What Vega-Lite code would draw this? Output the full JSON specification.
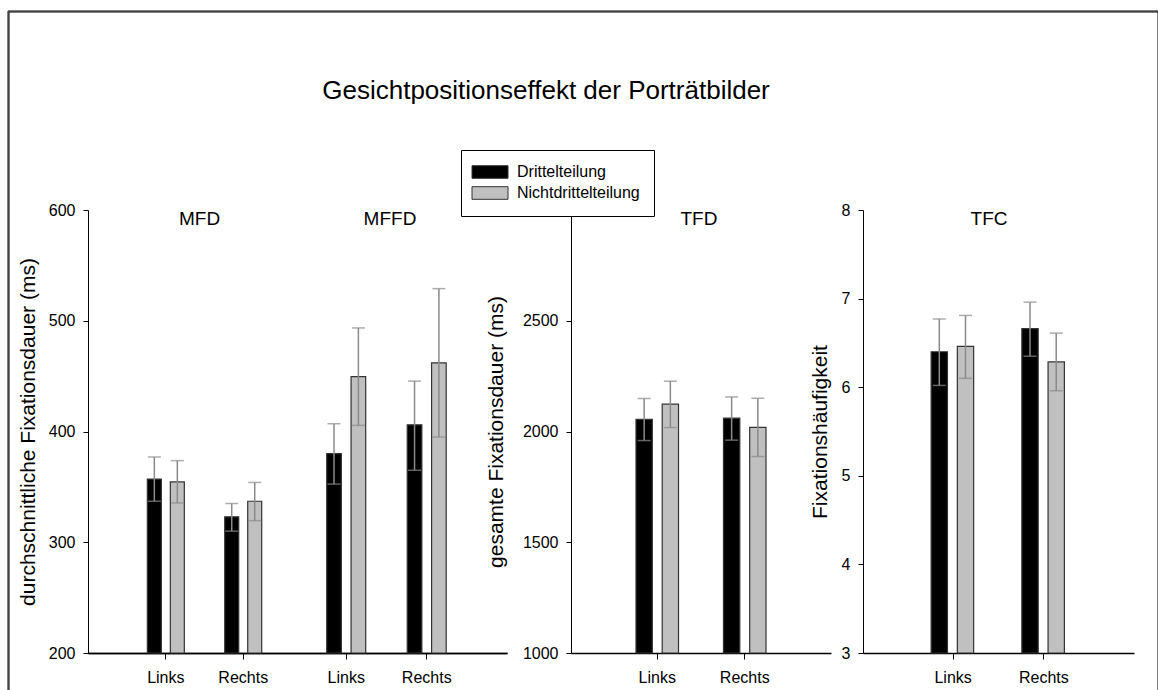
{
"$schema": "https://vega.github.io/schema/vega-lite/v6.json",
"padding": {"left": 7, "top": 10, "right": 0, "bottom": 0},
"config": {
  "view": {"stroke": null},
  "font": "Liberation Sans",
  "axis": {"labelFont": "Liberation Sans", "labelFontSize": 16, "labelColor": "#000", "titleFont": "Liberation Sans", "titleFontSize": 21, "titleFontWeight": "normal", "titleColor": "#000", "domainColor": "#000", "tickColor": "#000", "grid": false},
  "axisX": {"tickSize": 6, "labelPadding": 10, "domainWidth": 1.5, "labelAngle": 0},
  "axisY": {"tickSize": 5, "labelPadding": 8, "domainWidth": 1},
  "legend": {"strokeWidth": 1, "labelFont": "Liberation Sans", "labelFontSize": 16, "labelColor": "#000", "symbolType": "M-3,-1.05H3V1.05H-3Z", "symbolSize": 144, "symbolStrokeColor": "#333", "symbolStrokeWidth": 1, "symbolOpacity": 1}
},
"datasets": {
  "bars": [
    {"measure": "MFD", "pos": "Links", "group": "Drittelteilung", "mean": 357, "lo": 337, "hi": 377},
    {"measure": "MFD", "pos": "Links", "group": "Nichtdrittelteilung", "mean": 354.5, "lo": 335.5, "hi": 373.7},
    {"measure": "MFD", "pos": "Rechts", "group": "Drittelteilung", "mean": 323, "lo": 310, "hi": 335},
    {"measure": "MFD", "pos": "Rechts", "group": "Nichtdrittelteilung", "mean": 337, "lo": 319.5, "hi": 354},
    {"measure": "MFFD", "pos": "Links", "group": "Drittelteilung", "mean": 380, "lo": 352.5, "hi": 407},
    {"measure": "MFFD", "pos": "Links", "group": "Nichtdrittelteilung", "mean": 449.5, "lo": 405.5, "hi": 493.5},
    {"measure": "MFFD", "pos": "Rechts", "group": "Drittelteilung", "mean": 406, "lo": 365, "hi": 445.5},
    {"measure": "MFFD", "pos": "Rechts", "group": "Nichtdrittelteilung", "mean": 462, "lo": 395, "hi": 529},
    {"measure": "TFD", "pos": "Links", "group": "Drittelteilung", "mean": 2055, "lo": 1959, "hi": 2149},
    {"measure": "TFD", "pos": "Links", "group": "Nichtdrittelteilung", "mean": 2124, "lo": 2018, "hi": 2227},
    {"measure": "TFD", "pos": "Rechts", "group": "Drittelteilung", "mean": 2060, "lo": 1961, "hi": 2156},
    {"measure": "TFD", "pos": "Rechts", "group": "Nichtdrittelteilung", "mean": 2019, "lo": 1887, "hi": 2150},
    {"measure": "TFC", "pos": "Links", "group": "Drittelteilung", "mean": 6.4, "lo": 6.02, "hi": 6.77},
    {"measure": "TFC", "pos": "Links", "group": "Nichtdrittelteilung", "mean": 6.46, "lo": 6.1, "hi": 6.81},
    {"measure": "TFC", "pos": "Rechts", "group": "Drittelteilung", "mean": 6.66, "lo": 6.35, "hi": 6.96},
    {"measure": "TFC", "pos": "Rechts", "group": "Nichtdrittelteilung", "mean": 6.285, "lo": 5.96, "hi": 6.61}
  ]
},
"title": {"text": "Gesichtpositionseffekt der Porträtbilder", "font": "Liberation Sans", "fontSize": 26, "fontWeight": "normal", "color": "#000", "anchor": "middle", "offset": -94, "dx": -54},
"spacing": -22,
"hconcat": [
  {
    "width": 419, "height": 443,
    "data": {"name": "bars"},
    "layer": [
      {
        "transform": [{"filter": "datum.measure === 'MFD'"}],
        "encoding": {
          "x": {"field": "pos", "type": "nominal", "title": null, "scale": {"type": "band", "domain": ["Links", "Rechts", "·1", "·2"], "paddingInner": 0.522, "paddingOuter": 0.968, "align": 0.396}, "axis": {"orient": "bottom", "values": ["Links", "Rechts"]}},
          "xOffset": {"field": "group", "type": "nominal", "sort": ["Drittelteilung", "Nichtdrittelteilung"], "scale": {"paddingInner": 0.391, "paddingOuter": 0}}
        },
        "layer": [
          {"mark": {"type": "bar", "stroke": "#333", "strokeWidth": 1.2}, "encoding": {
            "y": {"field": "mean", "type": "quantitative", "title": "durchschnittliche Fixationsdauer (ms)", "scale": {"domain": [200, 600], "nice": false, "zero": false}, "axis": {"values": [200, 300, 400, 500, 600], "titlePadding": 10}},
            "y2": {"datum": 200},
            "color": {"field": "group", "type": "nominal", "scale": {"domain": ["Drittelteilung", "Nichtdrittelteilung"], "range": ["#000000", "#c0c0c0"]}, "legend": {"orient": "none", "legendX": 373, "legendY": -60, "title": null, "strokeColor": "#000", "fillColor": "#fff", "padding": 14, "symbolOffset": 7, "labelOffset": 19, "rowPadding": 3}}}},
          {"mark": {"type": "rule", "color": "#8a8a8a", "strokeWidth": 1.5}, "encoding": {"y": {"field": "lo", "type": "quantitative", "title": "durchschnittliche Fixationsdauer (ms)"}, "y2": {"field": "hi"}}},
          {"mark": {"type": "tick", "color": "#8a8a8a", "thickness": 1.5, "size": 13}, "encoding": {"y": {"field": "lo", "type": "quantitative", "title": "durchschnittliche Fixationsdauer (ms)"}}},
          {"mark": {"type": "tick", "color": "#8a8a8a", "thickness": 1.5, "size": 13}, "encoding": {"y": {"field": "hi", "type": "quantitative", "title": "durchschnittliche Fixationsdauer (ms)"}}}
        ]
      },
      {
        "transform": [{"filter": "datum.measure === 'MFFD'"}],
        "encoding": {
          "x": {"field": "pos", "type": "nominal", "title": null, "scale": {"type": "band", "domain": ["·3", "·4", "Links", "Rechts"], "paddingInner": 0.516, "paddingOuter": 0.86, "align": 0.561}, "axis": {"orient": "bottom", "values": ["Links", "Rechts"]}},
          "xOffset": {"field": "group", "type": "nominal", "sort": ["Drittelteilung", "Nichtdrittelteilung"], "scale": {"paddingInner": 0.4, "paddingOuter": 0}}
        },
        "layer": [
          {"mark": {"type": "bar", "stroke": "#333", "strokeWidth": 1.2}, "encoding": {
            "y": {"field": "mean", "type": "quantitative", "title": "durchschnittliche Fixationsdauer (ms)"},
            "y2": {"datum": 200},
            "color": {"field": "group", "type": "nominal", "scale": {"domain": ["Drittelteilung", "Nichtdrittelteilung"], "range": ["#000000", "#c0c0c0"]}}}},
          {"mark": {"type": "rule", "color": "#8a8a8a", "strokeWidth": 1.5}, "encoding": {"y": {"field": "lo", "type": "quantitative", "title": "durchschnittliche Fixationsdauer (ms)"}, "y2": {"field": "hi"}}},
          {"mark": {"type": "tick", "color": "#8a8a8a", "thickness": 1.5, "size": 13}, "encoding": {"y": {"field": "lo", "type": "quantitative", "title": "durchschnittliche Fixationsdauer (ms)"}}},
          {"mark": {"type": "tick", "color": "#8a8a8a", "thickness": 1.5, "size": 13}, "encoding": {"y": {"field": "hi", "type": "quantitative", "title": "durchschnittliche Fixationsdauer (ms)"}}}
        ]
      },
      {
        "data": {"values": [{"label": "MFD", "k1": "a"}, {"label": "MFFD", "k1": "b"}]},
        "mark": {"type": "text", "baseline": "top", "fontSize": 19, "font": "Liberation Sans", "color": "#000"},
        "encoding": {
          "x": {"field": "label", "type": "nominal", "sort": null, "scale": {"type": "point", "padding": 0.6, "align": 0.488}, "axis": null},
          "y": {"datum": 600, "type": "quantitative", "title": "durchschnittliche Fixationsdauer (ms)"},
          "text": {"field": "label"},
          "opacity": {"field": "label", "type": "nominal", "scale": {"range": [1, 1]}, "legend": {"orient": "none", "legendX": -80.5, "legendY": -199.5, "title": null, "padding": 560, "strokeColor": "#000", "fillColor": null, "labelOpacity": 0, "labelColor": "transparent", "symbolOpacity": 0, "symbolSize": 0, "symbolType": "M0,0", "symbolStrokeWidth": 0}},
          "size": {"field": "k1", "type": "nominal", "scale": {"range": [19, 19]}, "legend": {"orient": "none", "legendX": -79.5, "legendY": -198.5, "title": null, "padding": 560, "strokeColor": "#000", "fillColor": null, "labelOpacity": 0, "labelColor": "transparent", "symbolOpacity": 0, "symbolType": "M0,0", "symbolStrokeWidth": 0}}
        }
      }
    ],
    "resolve": {"scale": {"x": "independent", "xOffset": "independent"}, "axis": {"x": "independent"}}
  },
  {
    "width": 260, "height": 443,
    "data": {"name": "bars"},
    "layer": [
      {
        "transform": [{"filter": "datum.measure === 'TFD'"}],
        "encoding": {
          "x": {"field": "pos", "type": "nominal", "sort": ["Links", "Rechts"], "title": null, "scale": {"type": "band", "paddingInner": 0.514, "paddingOuter": 0.743}},
          "xOffset": {"field": "group", "type": "nominal", "sort": ["Drittelteilung", "Nichtdrittelteilung"], "scale": {"paddingInner": 0.377, "paddingOuter": 0}}
        },
        "layer": [
          {"mark": {"type": "bar", "stroke": "#333", "strokeWidth": 1.2}, "encoding": {
            "y": {"field": "mean", "type": "quantitative", "title": "gesamte Fixationsdauer (ms)", "scale": {"domain": [1000, 3000], "nice": false, "zero": false}, "axis": {"values": [1000, 1500, 2000, 2500, 3000], "format": "d", "titlePadding": 16}},
            "y2": {"datum": 1000},
            "color": {"field": "group", "type": "nominal", "scale": {"domain": ["Drittelteilung", "Nichtdrittelteilung"], "range": ["#000000", "#c0c0c0"]}}}},
          {"mark": {"type": "rule", "color": "#8a8a8a", "strokeWidth": 1.5}, "encoding": {"y": {"field": "lo", "type": "quantitative", "title": "gesamte Fixationsdauer (ms)"}, "y2": {"field": "hi"}}},
          {"mark": {"type": "tick", "color": "#8a8a8a", "thickness": 1.5, "size": 13}, "encoding": {"y": {"field": "lo", "type": "quantitative", "title": "gesamte Fixationsdauer (ms)"}}},
          {"mark": {"type": "tick", "color": "#8a8a8a", "thickness": 1.5, "size": 13}, "encoding": {"y": {"field": "hi", "type": "quantitative", "title": "gesamte Fixationsdauer (ms)"}}}
        ]
      },
      {
        "data": {"values": [{"label": "TFD"}]},
        "mark": {"type": "text", "baseline": "top", "fontSize": 19, "font": "Liberation Sans", "color": "#000"},
        "encoding": {
          "x": {"field": "label", "type": "nominal", "scale": {"type": "point", "align": 0.492}, "axis": null},
          "y": {"datum": 3000, "type": "quantitative", "title": "gesamte Fixationsdauer (ms)"},
          "text": {"field": "label"}
        }
      }
    ],
    "resolve": {"scale": {"x": "independent"}}
  },
  {
    "width": 271, "height": 443,
    "data": {"name": "bars"},
    "layer": [
      {
        "transform": [{"filter": "datum.measure === 'TFC'"}],
        "encoding": {
          "x": {"field": "pos", "type": "nominal", "sort": ["Links", "Rechts"], "title": null, "scale": {"type": "band", "paddingInner": 0.515, "paddingOuter": 0.751}},
          "xOffset": {"field": "group", "type": "nominal", "sort": ["Drittelteilung", "Nichtdrittelteilung"], "scale": {"paddingInner": 0.36, "paddingOuter": 0}}
        },
        "layer": [
          {"mark": {"type": "bar", "stroke": "#333", "strokeWidth": 1.2}, "encoding": {
            "y": {"field": "mean", "type": "quantitative", "title": "Fixationshäufigkeit", "scale": {"domain": [3, 8], "nice": false, "zero": false}, "axis": {"values": [3, 4, 5, 6, 7, 8], "format": "d", "titlePadding": 11}},
            "y2": {"datum": 3},
            "color": {"field": "group", "type": "nominal", "scale": {"domain": ["Drittelteilung", "Nichtdrittelteilung"], "range": ["#000000", "#c0c0c0"]}}}},
          {"mark": {"type": "rule", "color": "#8a8a8a", "strokeWidth": 1.5}, "encoding": {"y": {"field": "lo", "type": "quantitative", "title": "Fixationshäufigkeit"}, "y2": {"field": "hi"}}},
          {"mark": {"type": "tick", "color": "#8a8a8a", "thickness": 1.5, "size": 13}, "encoding": {"y": {"field": "lo", "type": "quantitative", "title": "Fixationshäufigkeit"}}},
          {"mark": {"type": "tick", "color": "#8a8a8a", "thickness": 1.5, "size": 13}, "encoding": {"y": {"field": "hi", "type": "quantitative", "title": "Fixationshäufigkeit"}}}
        ]
      },
      {
        "data": {"values": [{"label": "TFC"}]},
        "mark": {"type": "text", "baseline": "top", "fontSize": 19, "font": "Liberation Sans", "color": "#000"},
        "encoding": {
          "x": {"field": "label", "type": "nominal", "scale": {"type": "point", "align": 0.465}, "axis": null},
          "y": {"datum": 8, "type": "quantitative", "title": "Fixationshäufigkeit"},
          "text": {"field": "label"}
        }
      }
    ],
    "resolve": {"scale": {"x": "independent"}}
  }
]
}
